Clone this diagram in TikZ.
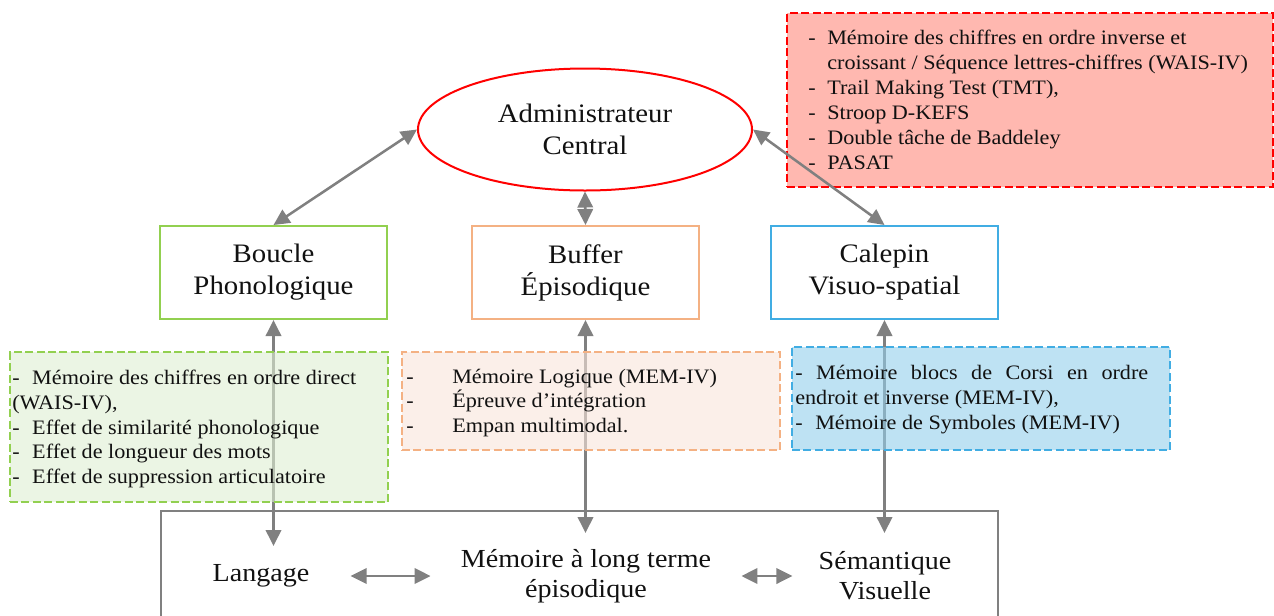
\documentclass[tikz,border=0pt]{standalone}
\usepackage{fontspec}
\setmainfont{Liberation Serif}[FakeStretch=1.08]
\usetikzlibrary{shapes.geometric,arrows.meta}

\definecolor{ink}{HTML}{111111}
\definecolor{linkgray}{HTML}{808080}
\definecolor{ceRed}{HTML}{FF0000}
\definecolor{ceFill}{HTML}{FFB8B0}
\definecolor{plGreen}{HTML}{92D050}
\definecolor{plFill}{HTML}{DEEED2}
\definecolor{ebOrange}{HTML}{F4B183}
\definecolor{ebFill}{HTML}{F8E4DA}
\definecolor{vsBlue}{HTML}{41ADE3}
\definecolor{vsFill}{HTML}{93CFEB}

\tikzset{
  link/.style={draw=linkgray, line width=1.9pt,
    {Triangle[length=12pt,width=11.5pt]}-{Triangle[length=12pt,width=11.5pt]}},
  stage/.style={rectangle, draw, line width=1.5pt, fill=white,
    minimum width=170.25pt, minimum height=69.75pt, inner sep=0pt,
    align=center, font=\fontsize{20}{24}\selectfont},
  testbox/.style={rectangle, line width=1.5pt, inner sep=0pt,
    dash pattern=on 6pt off 2.6pt},
  seethrough/.style={fill opacity=0.6, text opacity=1},
  listtext/.style={inner sep=0pt, align=left, anchor=west,
    font=\fontsize{15.4}{18.7}\selectfont},
  ltmtext/.style={inner sep=0pt, align=center,
    font=\fontsize{19.5}{22.5}\selectfont},
}

\begin{document}
\begin{tikzpicture}[x=0.75pt, y=-0.75pt, every node/.append style={text=ink}]
\useasboundingbox (0,0) rectangle (1274,615);
\clip (0,0) rectangle (1274,615);

% central executive tests
\node[testbox, draw=ceRed, fill=ceFill, minimum width=364.5pt, minimum height=130.5pt]
  (ceBox) at (1030,100) {};
\node[listtext] (ceList) at (808,100) {%
  \makebox[14.25pt][l]{-}Mémoire des chiffres en ordre inverse et\\
  \hspace*{14.25pt}croissant / Séquence lettres-chiffres (WAIS-IV)\\
  \makebox[14.25pt][l]{-}Trail Making Test (TMT),\\
  \makebox[14.25pt][l]{-}Stroop D-KEFS\\
  \makebox[14.25pt][l]{-}Double tâche de Baddeley\\
  \makebox[14.25pt][l]{-}PASAT};

% long-term memory frame
\node[rectangle, draw=linkgray, line width=1.5pt, inner sep=0pt,
  minimum width=627.75pt, minimum height=141.75pt] (ltm) at (579.5,605.5) {};

% working memory components
\node[ellipse, draw=ceRed, line width=1.5pt, fill=white, inner sep=0pt,
  minimum width=250.5pt, minimum height=91.5pt, align=center,
  font=\fontsize{20}{24}\selectfont] (admin) at (585,129.5) {Administrateur\\Central};
\node[stage, draw=plGreen] (boucle) at (273.5,272.5) {Boucle\\Phonologique};
\node[stage, draw=ebOrange] (buffer) at (585.5,272.5) {Buffer\\Épisodique};
\node[stage, draw=vsBlue] (calepin) at (884.5,272.5) {Calepin\\Visuo-spatial};

% long-term stores
\node[ltmtext] (langage) at (261,576) {Langage};
\node[ltmtext] (memoire) at (586,576) {Mémoire à long terme\\épisodique};
\node[ltmtext] (semantique) at (885,576) {Sémantique\\Visuelle};

\coordinate (lgEnd) at (273.5,546);
\coordinate (epEnd) at (585.5,533);
\coordinate (vsEnd) at (884.5,533);

% links down to long-term memory
\draw[link] (boucle.south) -- (lgEnd);
\draw[link] (buffer.south) -- (epEnd);
\draw[link] (calepin.south) -- (vsEnd);

% test lists of the slave systems
\node[testbox, seethrough, draw=plGreen, fill=plFill, minimum width=283.5pt, minimum height=112.5pt]
  (plBox) at (199,427) {};
\node[listtext] (plList) at (12,429) {%
  \makebox[15pt][l]{-}Mémoire des chiffres en ordre direct\\
  (WAIS-IV),\\
  \makebox[15pt][l]{-}Effet de similarité phonologique\\
  \makebox[15pt][l]{-}Effet de longueur des mots\\
  \makebox[15pt][l]{-}Effet de suppression articulatoire};

\node[testbox, seethrough, draw=ebOrange, fill=ebFill, minimum width=283.5pt, minimum height=73.5pt]
  (ebBox) at (591,401) {};
\node[listtext] (ebList) at (406,403) {%
  \makebox[34.5pt][l]{-}Mémoire Logique (MEM-IV)\\
  \makebox[34.5pt][l]{-}Épreuve d’intégration\\
  \makebox[34.5pt][l]{-}Empan multimodal.};

\node[testbox, seethrough, draw=vsBlue, fill=vsFill, minimum width=283.5pt, minimum height=77.25pt]
  (vsBox) at (981,398.5) {};
\node[listtext] (vsList) at (795,399.5) {%
  \makebox[264.75pt][s]{- Mémoire blocs de Corsi en ordre}\\
  endroit et inverse (MEM-IV),\\
  \makebox[15pt][l]{-}Mémoire de Symboles (MEM-IV)};

% links with the central executive
\draw[link] (admin.west) -- (boucle.north);
\draw[link] (admin.south) -- (buffer.north);
\draw[link] (admin.east) -- (calepin.north);

% links between long-term stores
\draw[link, shorten <=30.75pt, shorten >=22.5pt] (langage.east) -- (memoire.west);
\draw[link, shorten <=22.5pt, shorten >=19.5pt] (memoire.east) -- (semantique.west);
\end{tikzpicture}
\end{document}
